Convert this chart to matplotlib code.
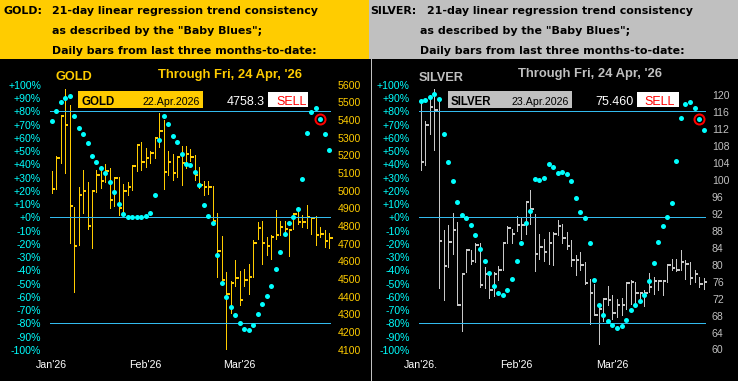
import matplotlib
matplotlib.use("Agg")
import matplotlib.pyplot as plt
from matplotlib.patches import Rectangle
import numpy as np

plt.rcParams['font.family'] = ['Liberation Sans', 'DejaVu Sans']

# ---------------- data ----------------
month_labels_gold = ["Jan'26", "Feb'26", "Mar'26"]
month_labels_silver = ["Jan'26.", "Feb'26", "Mar'26"]
month_start_idx = [0, 21, 42]

gold_high = [5112, 5197, 5422, 5578, 5488, 4908, 5022, 5118, 5050, 4999,
             5116, 5122, 5152, 5129, 5073, 5078, 5039, 5050, 5139, 5263,
             5276, 5242, 5224, 5305, 5441, 5403, 5224, 5209, 5190, 5252,
             5252, 5239, 5205, 5135, 5054, 5054, 5027, 4873, 4744, 4541,
             4488, 4608, 4544, 4558, 4586, 4722, 4824, 4831, 4737, 4748,
             4892, 4827, 4827, 4778, 4873, 4907, 4861, 4920, 4848, 4858,
             4795, 4776, 4759]
gold_low = [4990, 5012, 5159, 5103, 4707, 4427, 4695, 4876, 4786, 4678,
            4993, 5016, 5050, 4905, 4914, 4861, 4875, 4978, 5007, 5112,
            5116, 5135, 5159, 5186, 5248, 5010, 5092, 5063, 5078, 5031,
            5129, 5167, 5061, 5016, 4978, 4984, 4824, 4512, 4490, 4107,
            4310, 4461, 4356, 4463, 4416, 4512, 4729, 4588, 4635, 4616,
            4729, 4748, 4758, 4633, 4786, 4814, 4795, 4790, 4758, 4691,
            4739, 4682, 4678]
gold_close = [5012, 5186, 5422, 5371, 4914, 4690, 4978, 4997, 4801, 4999,
              5092, 5054, 5114, 4950, 5073, 4903, 5001, 5022, 5139, 5258,
              5163, 5186, 5212, 5301, 5341, 5107, 5161, 5099, 5190, 5158,
              5209, 5190, 5092, 5031, 5020, 5020, 4831, 4661, 4495, 4418,
              4480, 4508, 4382, 4497, 4514, 4707, 4791, 4707, 4686, 4739,
              4752, 4797, 4782, 4776, 4869, 4822, 4822, 4854, 4848, 4748,
              4758, 4718, 4733]
gold_bb = [72.7, 80.3, 87.1, 90.3, 91.8, 76.5, 67.4, 62.9, 56.1, 46.5,
           41.8, 37.2, 33.7, 26.9, 19.4, 10.1, 2.5, 0.3, 0.3, 0.3,
           0.3, 1.3, 3.3, 16.9, 58.1, 76.5, 70.4, 61.4, 56.9, 48.1,
           40.5, 39.8, 34.2, 24.4, 9.3, 1.3, -4.3, -28.2, -49.6, -59.9,
           -67.7, -73.5, -79.5, -84.3, -85.0, -81.3, -72.7, -65.2, -59.1, -51.6,
           -38.7, -25.9, -12.3, -4.0, 0.5, 6.3, 28.9, 63.9, 79.8, 82.8,
           74.5, 63.2, 51.1]
gold_signal_idx = 60
gold_info = ("GOLD", "22.Apr.2026", "4758.3", "SELL")

silver_high = [118.6, 113.8, 119.9, 121.4, 119.2, 88.1, 89.3, 92.2, 90.1, 78.0,
               83.8, 83.4, 85.0, 85.0, 79.5, 78.4, 78.3, 79.6, 85.1, 89.1,
               88.5, 91.4, 91.0, 94.9, 97.7, 91.9, 87.3, 86.1, 87.6, 87.7,
               90.6, 89.7, 87.6, 85.8, 82.2, 83.0, 80.6, 76.7, 75.5, 70.8,
               72.0, 75.0, 72.8, 72.0, 72.1, 75.9, 76.3, 75.9, 73.6, 74.0,
               78.0, 77.1, 76.3, 76.2, 80.2, 81.4, 81.4, 83.4, 81.0, 80.6,
               78.7, 77.1, 76.9]
silver_low = [102.3, 103.4, 110.9, 107.0, 74.4, 71.6, 79.5, 82.6, 70.4, 64.3,
              78.3, 80.2, 80.6, 74.7, 74.4, 72.1, 72.6, 76.3, 78.7, 85.0,
              85.0, 87.9, 86.1, 87.3, 89.7, 78.4, 81.4, 80.9, 80.2, 80.0,
              87.1, 85.0, 83.8, 79.7, 77.5, 78.7, 75.5, 65.9, 68.1, 61.4,
              66.7, 70.6, 67.3, 67.7, 68.1, 69.6, 70.8, 70.6, 71.2, 70.3,
              73.6, 73.1, 74.0, 72.8, 75.9, 78.7, 78.4, 78.7, 76.7, 75.5,
              75.9, 74.7, 74.2]
silver_close = [104.2, 112.9, 117.2, 116.4, 85.6, 79.6, 85.4, 88.1, 70.6, 77.9,
                83.4, 80.9, 84.6, 75.3, 77.7, 74.0, 77.7, 78.7, 85.0, 88.7,
                87.3, 89.4, 89.3, 94.8, 93.1, 82.6, 84.2, 83.0, 85.2, 87.3,
                89.1, 86.3, 84.4, 81.0, 81.0, 80.0, 75.7, 73.2, 68.1, 69.6,
                71.8, 71.6, 68.7, 70.4, 70.4, 75.7, 75.8, 73.4, 73.4, 73.4,
                74.7, 76.1, 76.1, 76.1, 80.0, 79.2, 78.7, 80.6, 80.2, 76.9,
                77.9, 75.5, 75.9]
silver_bb = [87.8, 88.8, 90.8, 93.1, 89.6, 62.9, 41.8, 27.4, 11.6, 1.8,
             -0.5, -5.8, -13.3, -23.9, -32.9, -42.0, -51.8, -56.8, -58.4, -54.8,
             -46.3, -33.0, -19.4, -4.0, 4.8, 28.9, 28.2, 29.7, 40.3, 38.0,
             33.7, 34.5, 33.0, 27.4, 14.8, 4.3, -0.3, -19.1, -47.0, -65.9,
             -73.5, -78.0, -81.3, -83.3, -81.8, -77.2, -69.7, -65.9, -62.9, -58.4,
             -47.8, -34.2, -18.4, -6.3, 0.5, 11.1, 42.8, 75.2, 85.8, 87.3,
             82.8, 74.5, 66.2]
silver_signal_idx = 61
silver_info = ("SILVER", "23.Apr.2026", "75.460", "SELL")

pct_ticks = list(range(100, -101, -10))
gold_price_ticks = list(range(4100, 5601, 100))
silver_price_ticks = list(range(60, 121, 4))

# ---------------- layout helpers ----------------
W, H, DPI = 738, 381, 100
fig = plt.figure(figsize=(W / DPI, H / DPI), dpi=DPI, facecolor='black')

def fx(px):
    return px / W

def fy(py):
    return 1 - py / H

def rect(x0, y0, x1, y1, color):
    fig.add_artist(Rectangle((fx(x0), fy(y1)), fx(x1) - fx(x0), fy(y0) - fy(y1),
                             transform=fig.transFigure, facecolor=color,
                             edgecolor='none', zorder=0))

def txt(x, y, s, **kw):
    kw.setdefault('va', 'baseline')
    fig.text(fx(x), fy(y), s, **kw)

YELLOW = '#FFCC00'
GRAY = '#C0C0C0'
BAR_GRAY = '#C8C8C8'
CYAN = '#00FFFF'
LINE = '#33BBEE'
PX = 72 / DPI  # points per pixel

TOP_PX, BOT_PX = 80, 355
ZERO_PX, PX_PER_PCT = 217.3, 1.325
PCT_TOP = (ZERO_PX - TOP_PX) / PX_PER_PCT
PCT_BOT = (ZERO_PX - BOT_PX) / PX_PER_PCT


def panel(L, R, x_first, dx, high, low, close, bb, sig_idx, p0, pslope,
          pticks, bar_col, lab_col, xlabels, lpad, rpad):
    ax = fig.add_axes([fx(L), fy(BOT_PX), fx(R) - fx(L), (BOT_PX - TOP_PX) / H])
    ax2 = ax.twinx()
    n = len(close)
    idx = np.arange(n)
    ax.set_xlim((L - x_first) / dx, (R - x_first) / dx)
    ax.set_ylim(PCT_BOT, PCT_TOP)
    ax2.set_ylim(p0 + pslope * PCT_BOT, p0 + pslope * PCT_TOP)
    ax.set_zorder(ax2.get_zorder() + 1)
    ax.patch.set_visible(False)
    ax2.patch.set_visible(False)
    for a in (ax, ax2):
        for s in a.spines.values():
            s.set_visible(False)
    # price bars (high-low with close tick)
    ax2.vlines(idx, low, high, color=bar_col, lw=1.0 * PX, antialiased=False)
    ax2.hlines(close, idx, idx + 0.75, color=bar_col, lw=2.0 * PX, antialiased=False)
    # reference lines and Baby Blues
    ax.hlines([80, 0, -80], -0.4, n - 0.8, color=LINE, lw=1.0 * PX, antialiased=False)
    ax.plot(idx, bb, 'o', color=CYAN, ms=5.0 * PX, mec='none')
    ax.plot([sig_idx], [bb[sig_idx]], 'o', mfc='none', mec='#FF0000',
            ms=10 * PX, mew=2 * PX)
    # ticks
    ax.set_yticks(pct_ticks)
    ax.set_yticklabels([f"{v:+d}%" for v in pct_ticks])
    ax.tick_params(axis='y', length=0, pad=lpad * PX, labelcolor=CYAN, labelsize=7.6)
    ax2.set_yticks(pticks)
    ax2.set_yticklabels([str(v) for v in pticks])
    ax2.tick_params(axis='y', length=0, pad=rpad * PX, labelcolor=lab_col, labelsize=7.6)
    ax.set_xticks(month_start_idx)
    ax.set_xticklabels(xlabels)
    ax.tick_params(axis='x', length=0, pad=4.5 * PX, labelcolor='white', labelsize=7.7)
    return ax


# ---------------- headers ----------------
rect(0, 0, 369, 59, YELLOW)
rect(369, 0, 738, 59, GRAY)
hdr = dict(family='DejaVu Sans', fontweight='bold', fontsize=7.9, color='black')
txt(4, 13.7, "GOLD:", **hdr)
txt(51.7, 13.7, "21-day linear regression trend consistency", **hdr)
txt(51.7, 34.3, 'as described by the "Baby Blues";', **hdr)
txt(51.7, 54, "Daily bars from last three months-to-date:", **hdr)
txt(370, 13.7, "SILVER:", **hdr)
txt(427.3, 13.7, "21-day linear regression trend consistency", **hdr)
txt(420.3, 34.3, 'as described by the "Baby Blues";', **hdr)
txt(420.3, 54, "Daily bars from last three months-to-date:", **hdr)

# separator line
fig.add_artist(plt.Line2D([fx(370.5), fx(370.5)], [fy(59), fy(381)],
                          transform=fig.transFigure, color=GRAY, lw=1.0 * PX))

# ---------------- panels ----------------
panel(45, 335, 51.7, 4.477, gold_high, gold_low, gold_close, gold_bb,
      gold_signal_idx, 4850, 7.5, gold_price_ticks, YELLOW, YELLOW,
      month_labels_gold, 4, 3)
panel(414, 708, 420.7, 4.565, silver_high, silver_low, silver_close, silver_bb,
      silver_signal_idx, 91.17, 0.3125, silver_price_ticks, BAR_GRAY, GRAY,
      month_labels_silver, 4.3, 4)

# titles
txt(55, 80, "GOLD", color=YELLOW, fontweight='bold', fontsize=9.2)
txt(157.7, 77.7, "Through Fri, 24 Apr, '26", color=YELLOW, fontweight='bold', fontsize=9.4)
txt(418.7, 80.7, "SILVER", color=GRAY, fontweight='bold', fontsize=9.2)
txt(518, 77.3, "Through Fri, 24 Apr, '26", color=GRAY, fontweight='bold', fontsize=9.4)

# info boxes
def info(box_x0, box_x1, box_col, info_t, val_x, sell_x0, sell_x1, sell_tx):
    name, date, val, sig = info_t
    rect(box_x0, 91, box_x1, 108.3, box_col)
    txt(box_x0 + 3, 105, name, color='black', fontweight='bold', fontsize=8.3)
    txt(box_x1 - 2.7, 105, date, color='black', fontsize=7.7, ha='right')
    txt(val_x, 105, val, color='white', fontsize=9)
    rect(sell_x0, 91.5, sell_x1, 106.7, 'white')
    txt(sell_tx, 105, sig, color='#FF0000', fontsize=9)

info(78, 202.7, YELLOW, gold_info, 226.7, 268.3, 308.3, 276.7)
info(448, 572, GRAY, silver_info, 595.7, 637.3, 678.7, 644.7)

fig.savefig("out.png", dpi=DPI, facecolor='black')
